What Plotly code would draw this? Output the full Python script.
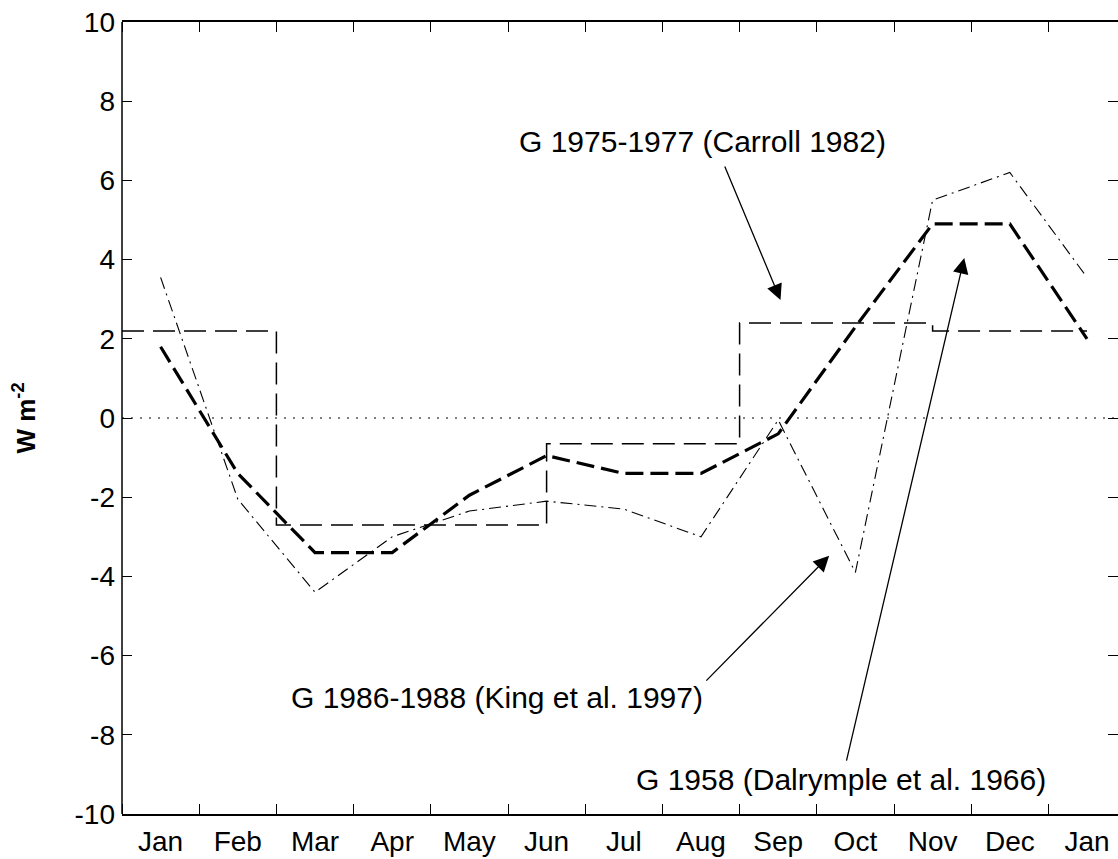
import plotly.graph_objects as go

# Month axis: labels sit in the middle of each month slot
month_labels = ["Jan", "Feb", "Mar", "Apr", "May", "Jun", "Jul",
                "Aug", "Sep", "Oct", "Nov", "Dec", "Jan"]
month_pos = list(range(1, 14))
month_edges = [k + 0.5 for k in range(0, 14)]

# Flux axis ticks (plain hyphen minus signs)
flux_ticks = [-10, -8, -6, -4, -2, 0, 2, 4, 6, 8, 10]
flux_tick_text = ["-10", "-8", "-6", "-4", "-2", "0", "2", "4", "6", "8", "10"]

# G 1958 (Dalrymple et al. 1966), monthly values, W m-2
dalrymple_1958 = [1.8, -1.4, -3.4, -3.4, -1.95, -0.95, -1.4, -1.4,
                  -0.4, 2.3, 4.9, 4.9, 2.0]

# G 1986-1988 (King et al. 1997), monthly values, W m-2
king_1986_88 = [3.55, -2.05, -4.4, -3.0, -2.35, -2.1, -2.3, -3.0,
                -0.05, -3.9, 5.5, 6.2, 3.55]

# G 1975-1977 (Carroll 1982), seasonal step values and where each step starts
carroll_edges = [0.5, 2.5, 6.0, 8.5, 11.0, 13.0]
carroll_1975_77 = [2.2, -2.7, -0.65, 2.4, 2.2, 2.2]

# Labels: (text, x, y) and arrows: (tail x, tail y, head x, head y)
label_text = ["G 1975-1977 (Carroll 1982)",
              "G 1986-1988 (King et al. 1997)",
              "G 1958 (Dalrymple et al. 1966)"]
label_x = [8.02, 5.36, 9.81]
label_y = [6.97, -7.07, -9.14]
arrow_tail_x = [8.30, 8.05, 9.88]
arrow_tail_y = [6.39, -6.67, -8.69]
arrow_head_x = [9.03, 9.66, 11.41]
arrow_head_y = [2.98, -3.48, 4.04]

FONT = "Liberation Sans, Arial, Helvetica, sans-serif"
PLOT_LEFT, FIG_W, FIG_H = 122, 1118, 859
MONTH_PX = 77.2

fig = go.Figure()

fig.add_trace(go.Scatter(
    x=carroll_edges, y=carroll_1975_77, mode="lines", line_shape="hv",
    line=dict(color="black", width=1.5, dash="22px,9px"),
    name="G 1975-1977 (Carroll 1982)", showlegend=False))

fig.add_trace(go.Scatter(
    x=month_pos, y=king_1986_88, mode="lines",
    line=dict(color="black", width=1.1, dash="12px,5px,2px,5px"),
    name="G 1986-1988 (King et al. 1997)", showlegend=False))

fig.add_trace(go.Scatter(
    x=month_pos, y=dalrymple_1958, mode="lines",
    line=dict(color="black", width=3.2, dash="18px,7px"),
    name="G 1958 (Dalrymple et al. 1966)", showlegend=False))

# zero reference line and left spine
fig.add_shape(type="line", xref="paper", yref="y", x0=0, x1=1, y0=0, y1=0,
              line=dict(color="black", width=1, dash="2px,7px"))
fig.add_shape(type="line", xref="paper", yref="paper", x0=0, x1=0, y0=0, y1=1,
              line=dict(color="black", width=1.5))

for t, x, y in zip(label_text, label_x, label_y):
    fig.add_annotation(x=x, y=y, xref="x", yref="y", text=t, showarrow=False,
                       font=dict(family=FONT, size=30, color="black"))

for tx, ty, hx, hy in zip(arrow_tail_x, arrow_tail_y, arrow_head_x, arrow_head_y):
    fig.add_annotation(x=hx, y=hy, ax=tx, ay=ty, xref="x", yref="y",
                       axref="x", ayref="y", text="", showarrow=True,
                       arrowhead=2, arrowsize=2.4, arrowwidth=1.3,
                       arrowcolor="black", standoff=0, startstandoff=0)

plot_w = FIG_W - PLOT_LEFT
x_max = 0.5 + plot_w / MONTH_PX

fig.update_layout(
    width=FIG_W, height=FIG_H,
    margin=dict(l=PLOT_LEFT, r=0, t=22, b=45),
    paper_bgcolor="white", plot_bgcolor="white",
    font=dict(family=FONT, size=28, color="black"),
    xaxis=dict(
        range=[0.5, x_max], tickmode="array", tickvals=month_pos,
        ticktext=month_labels, ticks="", showgrid=False, zeroline=False,
        showline=True, linecolor="black", linewidth=1.5, mirror="ticks",
        ticklabelstandoff=2,
        tickfont=dict(family=FONT, size=28, color="black"),
        minor=dict(tickmode="array", tickvals=month_edges, ticks="inside",
                   ticklen=10, tickcolor="black", tickwidth=1.3, showgrid=False),
    ),
    yaxis=dict(
        range=[-10, 10], tickmode="array", tickvals=flux_ticks,
        ticktext=flux_tick_text,
        ticks="inside", ticklen=10, tickcolor="black", tickwidth=1.3,
        showgrid=False, zeroline=False, showline=False, mirror="ticks",
        ticklabelstandoff=6,
        tickfont=dict(family=FONT, size=28, color="black"),
        title=dict(text="<b>W m<sup>-2</sup></b>", standoff=31,
                   font=dict(family=FONT, size=26, color="black")),
    ),
)

fig.write_html("out.html")
